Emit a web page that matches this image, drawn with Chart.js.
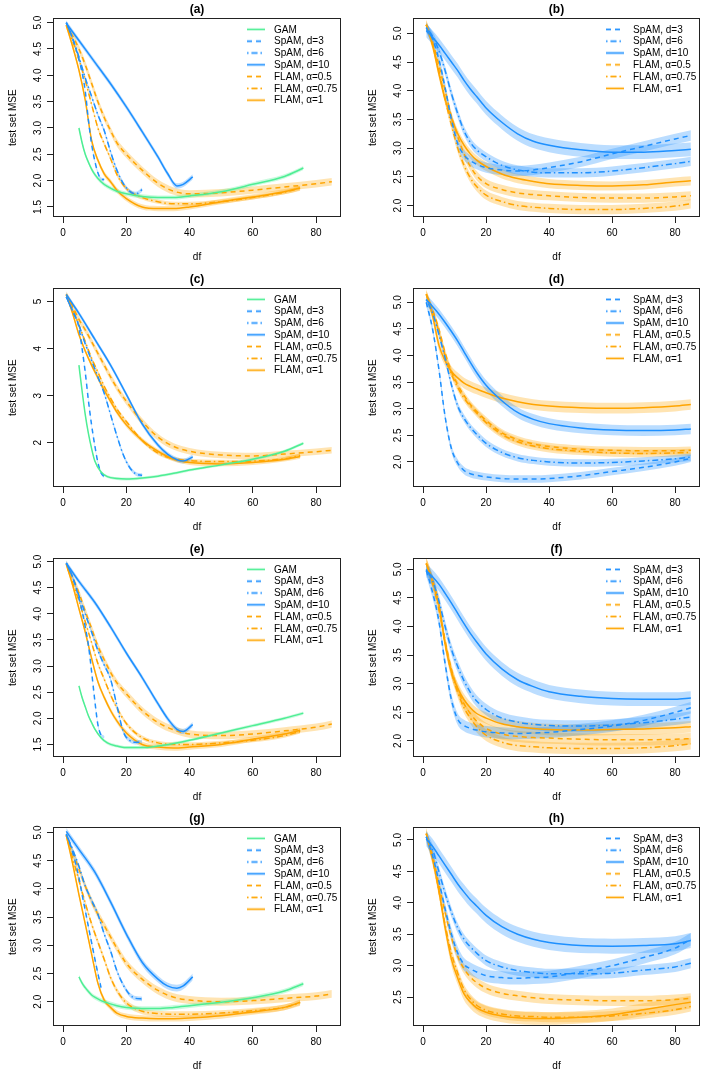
<!DOCTYPE html>
<html>
<head>
<meta charset="utf-8">
<script src="https://cdn.jsdelivr.net/npm/chart.js@4.4.1/dist/chart.umd.min.js"></script>
<style>
  html, body { margin: 0; padding: 0; background: #fff; }
  #wrap { position: relative; width: 719px; height: 1079px; }
  .panel { position: absolute; }
</style>
</head>
<body>
<div id="wrap"></div>
<script>
// df grids
const dfGam = [5, 6, 7, 8, 9, 10, 12, 14, 17, 20, 25, 30, 35, 40, 50, 60, 70, 76];
const dfD3 = [1, 3, 5, 6, 7, 8, 9, 10, 11, 12, 13];
const dfD6 = [1, 3, 5, 7, 9, 11, 13, 15, 17, 19, 21, 23, 25];
const dfD10 = [1, 5, 10, 15, 20, 25, 30, 33, 36, 38, 41];
const dfFull = [1, 3, 5, 7, 9, 11, 13, 15, 17, 20, 25, 30, 35, 40, 50, 60, 70, 80, 85];
const dfShort = [1, 3, 5, 7, 9, 11, 13, 15, 17, 20, 25, 30, 35, 40, 50, 60, 70, 75];

const seriesLabels = ['GAM', 'SpAM, d=3', 'SpAM, d=6', 'SpAM, d=10', 'FLAM, α=0.5', 'FLAM, α=0.75', 'FLAM, α=1'];
const xTicks = [0, 20, 40, 60, 80];
const yTicks15 = ['1.5', '2.0', '2.5', '3.0', '3.5', '4.0', '4.5', '5.0'];
const yTicks20 = ['2.0', '2.5', '3.0', '3.5', '4.0', '4.5', '5.0'];
const yTicksInt = ['2', '3', '4', '5'];
const yTicks25 = ['2.5', '3.0', '3.5', '4.0', '4.5', '5.0'];

// (a)
const gamA = [3.0, 2.72, 2.5, 2.35, 2.22, 2.12, 1.98, 1.89, 1.8, 1.75, 1.70, 1.68, 1.68, 1.71, 1.79, 1.93, 2.08, 2.24];
const d3A = [5.0, 4.7, 4.3, 4.05, 3.7, 3.15, 2.7, 2.38, 2.15, 2.03, 2.02];
const d6A = [5.0, 4.7, 4.35, 3.95, 3.6, 3.25, 2.95, 2.55, 2.2, 1.95, 1.8, 1.75, 1.83];
const d10A = [4.99, 4.66, 4.25, 3.84, 3.40, 2.93, 2.45, 2.14, 1.9, 1.93, 2.07];
const a05A = [4.95, 4.75, 4.5, 4.2, 3.85, 3.5, 3.2, 2.95, 2.72, 2.5, 2.2, 1.95, 1.8, 1.75, 1.77, 1.82, 1.88, 1.94, 1.98];
const a075A = [4.95, 4.65, 4.3, 3.9, 3.45, 3.0, 2.7, 2.42, 2.12, 1.85, 1.68, 1.6, 1.56, 1.56, 1.6, 1.68, 1.78, 1.86];
const a1A = [4.95, 4.55, 4.1, 3.53, 2.77, 2.39, 2.13, 1.98, 1.82, 1.66, 1.5, 1.47, 1.47, 1.5, 1.6, 1.69, 1.79, 1.86];
const bandA = [0.04, 0.03, 0.04, 0.05, 0.07, 0.04, 0.05];

// (b)
const d3B = [5.1, 4.9, 4.55, 4.05, 3.5, 3.08, 2.88, 2.78, 2.72, 2.66, 2.62, 2.6, 2.62, 2.66, 2.76, 2.9, 3.03, 3.16, 3.22];
const d6B = [5.1, 4.95, 4.7, 4.35, 3.95, 3.6, 3.3, 3.1, 2.97, 2.85, 2.7, 2.62, 2.58, 2.57, 2.57, 2.6, 2.66, 2.73, 2.77];
const d10B = [5.05, 4.93, 4.8, 4.65, 4.5, 4.35, 4.18, 4.03, 3.9, 3.7, 3.45, 3.25, 3.12, 3.05, 2.97, 2.93, 2.93, 2.96, 2.98];
const a05B = [5.15, 4.85, 4.45, 4.0, 3.55, 3.2, 2.9, 2.68, 2.52, 2.38, 2.28, 2.22, 2.19, 2.17, 2.14, 2.13, 2.13, 2.15, 2.17];
const a075B = [5.15, 4.8, 4.35, 3.85, 3.4, 3.0, 2.7, 2.48, 2.33, 2.18, 2.07, 2.0, 1.97, 1.95, 1.93, 1.93, 1.95, 1.99, 2.03];
const a1B = [5.15, 4.8, 4.3, 3.85, 3.52, 3.25, 3.05, 2.9, 2.79, 2.68, 2.55, 2.47, 2.42, 2.38, 2.35, 2.34, 2.36, 2.41, 2.43];
const bandB = [0.09, 0.08, 0.12, 0.08, 0.08, 0.08];

// (c)
const gamC = [3.65, 3.1, 2.6, 2.2, 1.88, 1.62, 1.38, 1.28, 1.24, 1.23, 1.25, 1.29, 1.35, 1.42, 1.53, 1.65, 1.82, 1.99];
const d3C = [5.1, 4.8, 4.45, 4.0, 3.5, 2.9, 2.38, 1.95, 1.58, 1.36, 1.28];
const d6C = [5.1, 4.8, 4.5, 4.1, 3.75, 3.4, 3.05, 2.6, 2.15, 1.75, 1.48, 1.34, 1.31];
const d10C = [5.15, 4.75, 4.2, 3.65, 3.03, 2.4, 1.95, 1.76, 1.64, 1.61, 1.7];
const a05C = [5.15, 4.9, 4.62, 4.4, 4.15, 3.9, 3.65, 3.4, 3.17, 2.88, 2.45, 2.12, 1.92, 1.82, 1.74, 1.72, 1.76, 1.81, 1.84];
const a075C = [5.15, 4.85, 4.5, 4.15, 3.8, 3.5, 3.2, 2.95, 2.72, 2.45, 2.05, 1.78, 1.66, 1.62, 1.6, 1.61, 1.66, 1.73];
const a1C = [5.15, 4.75, 4.3, 3.95, 3.65, 3.38, 3.12, 2.88, 2.65, 2.38, 2.05, 1.82, 1.65, 1.58, 1.55, 1.58, 1.65, 1.71];
const bandC = [0.03, 0.03, 0.04, 0.05, 0.07, 0.04, 0.05];

// (d)
const d3D = [5.0, 4.5, 3.75, 2.85, 2.25, 1.98, 1.84, 1.78, 1.75, 1.72, 1.69, 1.68, 1.68, 1.69, 1.74, 1.82, 1.9, 2.0, 2.07];
const d6D = [5.05, 4.8, 4.4, 3.95, 3.45, 3.05, 2.82, 2.65, 2.52, 2.35, 2.18, 2.08, 2.03, 2.0, 1.98, 1.99, 2.02, 2.06, 2.09];
const d10D = [5.05, 4.92, 4.78, 4.62, 4.45, 4.27, 4.07, 3.87, 3.68, 3.44, 3.15, 2.93, 2.8, 2.72, 2.64, 2.6, 2.59, 2.6, 2.62];
const a05D = [5.15, 4.85, 4.5, 4.05, 3.7, 3.45, 3.25, 3.08, 2.95, 2.78, 2.55, 2.42, 2.34, 2.29, 2.24, 2.22, 2.21, 2.21, 2.22];
const a075D = [5.15, 4.85, 4.45, 4.0, 3.65, 3.4, 3.2, 3.05, 2.92, 2.74, 2.52, 2.38, 2.3, 2.25, 2.2, 2.17, 2.16, 2.17, 2.18];
const a1D = [5.15, 4.75, 4.2, 3.9, 3.7, 3.58, 3.48, 3.42, 3.37, 3.3, 3.2, 3.13, 3.08, 3.05, 3.02, 3.01, 3.02, 3.05, 3.08];
const bandD = [0.07, 0.07, 0.1, 0.07, 0.07, 0.1];

// (e)
const gamE = [2.62, 2.4, 2.22, 2.05, 1.92, 1.8, 1.63, 1.53, 1.47, 1.44, 1.44, 1.47, 1.52, 1.58, 1.72, 1.86, 2.0, 2.1];
const d3E = [4.97, 4.7, 4.3, 4.05, 3.75, 3.4, 2.9, 2.35, 1.88, 1.68, 1.64];
const d6E = [4.97, 4.7, 4.35, 4.0, 3.65, 3.3, 3.02, 2.75, 2.25, 1.75, 1.58, 1.54, 1.55];
const d10E = [4.97, 4.62, 4.22, 3.75, 3.25, 2.78, 2.28, 2.0, 1.79, 1.75, 1.88];
const a05E = [4.95, 4.7, 4.4, 4.05, 3.72, 3.38, 3.12, 2.88, 2.68, 2.47, 2.15, 1.92, 1.78, 1.7, 1.67, 1.7, 1.76, 1.83, 1.89];
const a075E = [4.95, 4.6, 4.25, 3.85, 3.45, 3.05, 2.75, 2.45, 2.2, 1.9, 1.63, 1.53, 1.5, 1.5, 1.53, 1.58, 1.67, 1.75];
const a1E = [4.95, 4.55, 4.1, 3.65, 3.15, 2.7, 2.4, 2.15, 1.95, 1.72, 1.5, 1.45, 1.43, 1.45, 1.5, 1.6, 1.7, 1.77];
const bandE = [0.03, 0.03, 0.04, 0.05, 0.07, 0.04, 0.05];

// (f)
const d3F = [4.98, 4.6, 4.1, 3.35, 2.72, 2.38, 2.27, 2.22, 2.19, 2.16, 2.14, 2.13, 2.14, 2.15, 2.2, 2.26, 2.36, 2.5, 2.58];
const d6F = [5.0, 4.8, 4.45, 4.0, 3.6, 3.3, 3.05, 2.85, 2.7, 2.55, 2.4, 2.33, 2.29, 2.27, 2.26, 2.28, 2.32, 2.38, 2.42];
const d10F = [4.98, 4.87, 4.74, 4.58, 4.41, 4.23, 4.05, 3.88, 3.73, 3.52, 3.26, 3.07, 2.95, 2.86, 2.78, 2.74, 2.73, 2.73, 2.75];
const a05F = [5.1, 4.8, 4.35, 3.75, 3.25, 2.9, 2.65, 2.48, 2.35, 2.22, 2.12, 2.08, 2.06, 2.05, 2.03, 2.02, 2.02, 2.03, 2.04];
const a075F = [5.1, 4.75, 4.3, 3.7, 3.2, 2.85, 2.58, 2.4, 2.25, 2.1, 1.98, 1.92, 1.9, 1.88, 1.87, 1.87, 1.88, 1.92, 1.95];
const a1F = [5.1, 4.8, 4.4, 3.7, 3.2, 2.92, 2.72, 2.58, 2.48, 2.4, 2.3, 2.25, 2.22, 2.2, 2.19, 2.2, 2.21, 2.23, 2.25];
const bandF = [0.1, 0.1, 0.12, 0.1, 0.1, 0.1];

// (g)
const gamG = [2.44, 2.33, 2.25, 2.18, 2.12, 2.08, 2.02, 1.98, 1.93, 1.9, 1.88, 1.88, 1.9, 1.93, 1.99, 2.07, 2.19, 2.32];
const d3G = [4.97, 4.65, 4.2, 3.9, 3.62, 3.33, 3.05, 2.77, 2.5, 2.25, null];
const d6G = [4.97, 4.7, 4.4, 4.05, 3.8, 3.55, 3.2, 2.9, 2.55, 2.3, 2.13, 2.06, 2.05];
const d10G = [5.02, 4.7, 4.3, 3.77, 3.2, 2.7, 2.4, 2.28, 2.24, 2.28, 2.44];
const a05G = [4.95, 4.65, 4.35, 4.05, 3.78, 3.55, 3.35, 3.15, 2.95, 2.68, 2.4, 2.2, 2.08, 2.03, 2.0, 2.02, 2.06, 2.1, 2.14];
const a075G = [4.95, 4.55, 4.15, 3.75, 3.38, 3.06, 2.75, 2.43, 2.2, 1.98, 1.83, 1.79, 1.78, 1.78, 1.8, 1.84, 1.9, 1.98];
const a1G = [4.95, 4.45, 3.9, 3.38, 2.85, 2.33, 2.03, 1.9, 1.8, 1.74, 1.71, 1.7, 1.7, 1.71, 1.75, 1.82, 1.9, 1.99];
const bandG = [0.04, 0.04, 0.04, 0.06, 0.07, 0.05, 0.05];

// (h)
const d3H = [5.05, 4.75, 4.35, 3.9, 3.5, 3.2, 3.02, 2.95, 2.9, 2.84, 2.81, 2.8, 2.81, 2.82, 2.9, 3.0, 3.13, 3.28, 3.42];
const d6H = [5.05, 4.85, 4.5, 4.15, 3.85, 3.6, 3.42, 3.3, 3.2, 3.08, 2.98, 2.92, 2.89, 2.87, 2.87, 2.88, 2.93, 2.98, 3.04];
const d10H = [5.02, 4.9, 4.75, 4.6, 4.45, 4.3, 4.17, 4.05, 3.95, 3.8, 3.62, 3.5, 3.42, 3.37, 3.32, 3.31, 3.32, 3.35, 3.4];
const a05H = [5.1, 4.75, 4.3, 3.85, 3.45, 3.15, 2.95, 2.82, 2.73, 2.64, 2.56, 2.52, 2.49, 2.47, 2.45, 2.44, 2.44, 2.46, 2.48];
const a075H = [5.1, 4.7, 4.2, 3.65, 3.2, 2.88, 2.62, 2.47, 2.37, 2.29, 2.23, 2.2, 2.19, 2.18, 2.18, 2.2, 2.24, 2.3, 2.35];
const a1H = [5.1, 4.7, 4.2, 3.6, 3.1, 2.8, 2.55, 2.42, 2.33, 2.26, 2.2, 2.17, 2.16, 2.16, 2.18, 2.22, 2.3, 2.38, 2.42];
const bandH = [0.1, 0.08, 0.12, 0.08, 0.08, 0.1];

// line styles per series
const GREEN = [78, 238, 148], BLUE = [30, 144, 255], ORANGE = [255, 165, 0];
const DASH = [5, 4], DOTDASH = [1.5, 3, 6, 3];
const styles = [
  { rgb: GREEN, dash: [] },
  { rgb: BLUE, dash: DASH },
  { rgb: BLUE, dash: DOTDASH },
  { rgb: BLUE, dash: [] },
  { rgb: ORANGE, dash: DASH },
  { rgb: ORANGE, dash: DOTDASH },
  { rgb: ORANGE, dash: [] }
];
const rgba = (c, a) => `rgba(${c[0]},${c[1]},${c[2]},${a})`;

const leftGrids = [dfGam, dfD3, dfD6, dfD10, dfFull, dfShort, dfShort];
const rightGrids = [dfFull, dfFull, dfFull, dfFull, dfFull, dfFull];

const panels = [
  { title: '(a)', col: 0, row: 0, yMin: 1.31, yMax: 5.08, yTicks: yTicks15, ys: [gamA, d3A, d6A, d10A, a05A, a075A, a1A], band: bandA },
  { title: '(b)', col: 1, row: 0, yMin: 1.80, yMax: 5.26, yTicks: yTicks20, ys: [d3B, d6B, d10B, a05B, a075B, a1B], band: bandB },
  { title: '(c)', col: 0, row: 1, yMin: 1.06, yMax: 5.28, yTicks: yTicksInt, ys: [gamC, d3C, d6C, d10C, a05C, a075C, a1C], band: bandC },
  { title: '(d)', col: 1, row: 1, yMin: 1.53, yMax: 5.26, yTicks: yTicks20, ys: [d3D, d6D, d10D, a05D, a075D, a1D], band: bandD },
  { title: '(e)', col: 0, row: 2, yMin: 1.26, yMax: 5.06, yTicks: yTicks15, ys: [gamE, d3E, d6E, d10E, a05E, a075E, a1E], band: bandE },
  { title: '(f)', col: 1, row: 2, yMin: 1.72, yMax: 5.19, yTicks: yTicks20, ys: [d3F, d6F, d10F, a05F, a075F, a1F], band: bandF },
  { title: '(g)', col: 0, row: 3, yMin: 1.57, yMax: 5.09, yTicks: yTicks20, ys: [gamG, d3G, d6G, d10G, a05G, a075G, a1G], band: bandG },
  { title: '(h)', col: 1, row: 3, yMin: 2.04, yMax: 5.20, yTicks: yTicks25, ys: [d3H, d6H, d10H, a05H, a075H, a1H], band: bandH }
];
const rowTops = [0, 270, 540, 809];

const FONT = "'Liberation Sans', Arial, Helvetica, sans-serif";
Chart.defaults.font.family = FONT;
Chart.defaults.font.size = 10;
Chart.defaults.color = '#000';

// box, rotated y tick labels and legend, R style
const rStyle = {
  id: 'rStyle',
  afterDraw(chart) {
    const { ctx, chartArea: a } = chart;
    const y = chart.scales.y;
    ctx.save();
    ctx.strokeStyle = '#222';
    ctx.lineWidth = 1;
    ctx.strokeRect(Math.round(a.left) + 0.5, Math.round(a.top) + 0.5,
      Math.round(a.right - a.left) - 1, Math.round(a.bottom - a.top) - 1);

    ctx.fillStyle = '#000';
    ctx.font = '10px ' + FONT;
    ctx.textAlign = 'center';
    ctx.textBaseline = 'middle';
    y.ticks.forEach(t => {
      const py = y.getPixelForValue(t.value);
      ctx.save();
      ctx.translate(a.left - 15, py);
      ctx.rotate(-Math.PI / 2);
      ctx.fillText(t.label, 0, 0);
      ctx.restore();
    });

    const items = chart.data.datasets.filter(d => !d.isBand);
    let ly = a.top + 11;
    ctx.textAlign = 'left';
    items.forEach(d => {
      const x0 = a.right - 94, x1 = a.right - 76;
      ctx.setLineDash(d.borderDash);
      ctx.strokeStyle = d.bandColor;
      ctx.lineWidth = 3;
      ctx.beginPath(); ctx.moveTo(x0, ly); ctx.lineTo(x1, ly); ctx.stroke();
      ctx.strokeStyle = d.borderColor;
      ctx.lineWidth = 1;
      ctx.beginPath(); ctx.moveTo(x0, ly); ctx.lineTo(x1, ly); ctx.stroke();
      ctx.setLineDash([]);
      ctx.fillText(d.label, a.right - 67, ly + 0.5);
      ly += 11.8;
    });
    ctx.restore();
  }
};

const wrap = document.getElementById('wrap');
panels.forEach(p => {
  const w = p.col === 0 ? 360 : 359;
  const div = document.createElement('div');
  div.className = 'panel';
  div.style.left = (p.col * 360) + 'px';
  div.style.top = rowTops[p.row] + 'px';
  const cv = document.createElement('canvas');
  cv.width = w; cv.height = 270;
  cv.style.width = w + 'px'; cv.style.height = '270px';
  div.appendChild(cv);
  wrap.appendChild(div);

  const styleSet = p.ys.length === 7 ? styles : styles.slice(1);
  const labels = p.ys.length === 7 ? seriesLabels : seriesLabels.slice(1);
  const grids = p.ys.length === 7 ? leftGrids : rightGrids;

  const pts = (xs, ys, off) => xs.map((x, k) => ({ x, y: ys[k] == null ? null : ys[k] + off }));
  const datasets = [];
  p.ys.forEach((ys, i) => {
    const xs = grids[i], st = styleSet[i], bw = p.band[i];
    datasets.push({ isBand: true, data: pts(xs, ys, bw), borderWidth: 0, pointRadius: 0,
      fill: false, order: 1, cubicInterpolationMode: 'monotone' });
    datasets.push({ isBand: true, data: pts(xs, ys, -bw), borderWidth: 0, pointRadius: 0,
      fill: '-1', backgroundColor: rgba(st.rgb, 0.3), order: 1, cubicInterpolationMode: 'monotone' });
  });
  p.ys.forEach((ys, i) => {
    const st = styleSet[i];
    datasets.push({
      label: labels[i], data: pts(grids[i], ys, 0),
      borderColor: rgba(st.rgb, 1), bandColor: rgba(st.rgb, 0.35), borderDash: st.dash,
      borderWidth: 1.5, pointRadius: 0, fill: false, order: 0,
      cubicInterpolationMode: 'monotone'
    });
  });

  const yVals = p.yTicks.map(Number);
  new Chart(cv, {
    type: 'line',
    data: { datasets },
    plugins: [rStyle],
    options: {
      responsive: false,
      animation: false,
      events: [],
      layout: { padding: { top: 0, right: 19, bottom: 0, left: 0 } },
      plugins: {
        legend: { display: false },
        tooltip: { enabled: false },
        title: {
          display: true, text: p.title, fullSize: false, color: '#000',
          font: { size: 12, weight: 'bold' }, padding: { top: 2, bottom: 2 }
        }
      },
      scales: {
        x: {
          type: 'linear', min: -3.2, max: 87.9,
          afterBuildTicks: s => { s.ticks = xTicks.map(v => ({ value: v })); },
          afterFit: s => { s.height = 53; },
          grid: { display: true, drawOnChartArea: false, drawTicks: true, tickLength: 6, color: '#222' },
          border: { display: false },
          ticks: { padding: 4, maxRotation: 0, autoSkip: false, color: '#000', font: { size: 10 } },
          title: { display: true, text: 'df', color: '#000', font: { size: 10 }, padding: { top: 0, bottom: 7 } }
        },
        y: {
          type: 'linear', min: p.yMin, max: p.yMax,
          afterBuildTicks: s => { s.ticks = yVals.map(v => ({ value: v })); },
          afterFit: s => { s.width = 53; },
          grid: { display: true, drawOnChartArea: false, drawTicks: true, tickLength: 6, color: '#222' },
          border: { display: false },
          ticks: { display: false, callback: v => p.yTicks[yVals.indexOf(v)] },
          title: { display: true, text: 'test set MSE', color: '#000', font: { size: 10 }, padding: { top: 7, bottom: 0 } }
        }
      }
    }
  });
});
</script>
</body>
</html>
